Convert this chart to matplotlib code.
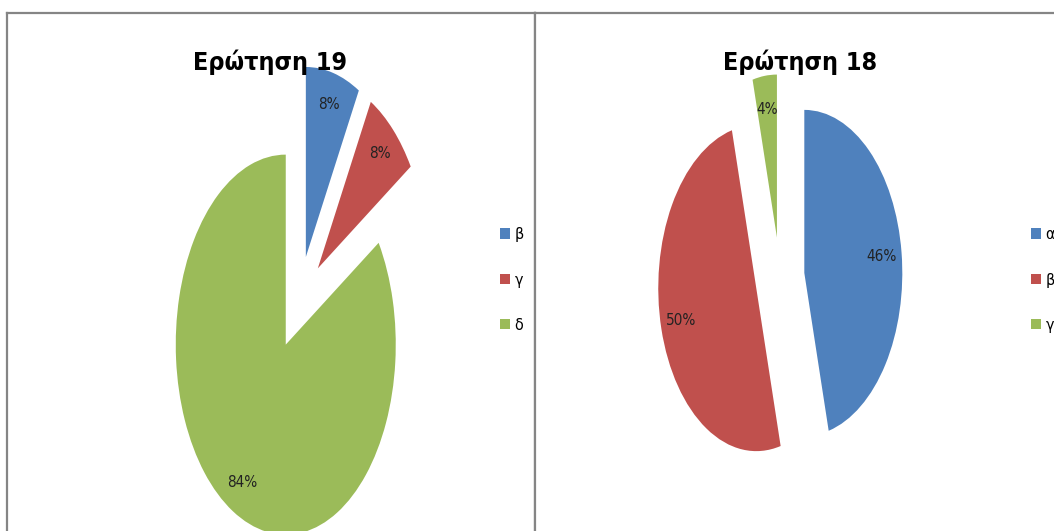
import matplotlib
matplotlib.use('Agg')
import matplotlib.pyplot as plt
from matplotlib import font_manager
from matplotlib.ft2font import FT2Font

# fonts: the original is a narrow Calibri-like face; look for a condensed
# font that also has the greek letters, otherwise use Liberation Sans
fam, stretch = 'Liberation Sans', 'normal'
best = 99
for f in font_manager.fontManager.ttflist:
    if 'Mono' in f.name or 'Serif' in f.name:
        continue
    narrow = ('Narrow' in f.name or 'Condensed' in f.name
              or f.stretch in ('condensed', 'semi-condensed'))
    if not narrow or 'Extra' in f.name or 'Ultra' in f.name:
        continue
    try:
        cmap = FT2Font(f.fname).get_charmap()
    except Exception:
        continue
    if ord('ώ') not in cmap or ord('η') not in cmap:
        continue
    rank = 0 if f.name in ('DejaVu Sans', 'Noto Sans', 'Open Sans', 'Roboto') else 1
    if rank < best:
        best = rank
        fam = f.name
        stretch = f.stretch if f.stretch in ('condensed', 'semi-condensed') else 'normal'
plt.rcParams['font.family'] = [fam, 'DejaVu Sans']
plt.rcParams['font.stretch'] = stretch

# data
titles = ['Ερώτηση 19', 'Ερώτηση 18']
labels19 = ['β', 'γ', 'δ']
values19 = [8, 8, 84]
labels18 = ['α', 'β', 'γ']
values18 = [46, 50, 4]
colors19 = ['#4F81BD', '#C0504D', '#9BBB59']
colors18 = ['#4F81BD', '#C0504D', '#9BBB59']

W, H = 1054, 531
fig = plt.figure(figsize=(W/100, H/100), dpi=100)

def px_axes(x0, x1, ytop, ybot):
    return fig.add_axes([x0/W, 1-ybot/H, (x1-x0)/W, (ybot-ytop)/H])

def draw_pie(ax, vals, cols, box, cx, cy, rx, ry, pctd):
    x0, x1, ytop, ybot = box
    wedges, texts, autotexts = ax.pie(vals, colors=cols, startangle=90, counterclock=False,
                                      explode=[0.25]*len(vals), autopct='%1.0f%%',
                                      pctdistance=pctd, wedgeprops=dict(linewidth=0),
                                      textprops=dict(fontsize=11, color='#222222'))
    ax.set_aspect('auto')
    ax.set_xlim((x0-cx)/rx, (x1-cx)/rx)
    ax.set_ylim((cy-ybot)/ry, (cy-ytop)/ry)
    ax.set_frame_on(True)
    ax.set_xticks([])
    ax.set_yticks([])
    for s in ax.spines.values():
        s.set_visible(True)
        s.set_color('#858585')
        s.set_linewidth(1.6)
    return wedges

# left panel - question 19
box1 = (7, 535, 13, 560)
ax1 = px_axes(*box1)
w1 = draw_pie(ax1, values19, colors19, box1, 299, 303, 110, 190, 0.83)

# right panel - question 18
box2 = (535, 1080, 13, 560)
ax2 = px_axes(*box2)
w2 = draw_pie(ax2, values18, colors18, box2, 780, 278, 98, 163, 0.79)

fig.text(270/W, 1-62/H, titles[0], ha='center', va='center', fontsize=18, fontweight='bold')
fig.text(800/W, 1-62/H, titles[1], ha='center', va='center', fontsize=18, fontweight='bold')

leg_kw = dict(frameon=False, fontsize=11.5, handlelength=0.6, handleheight=0.6,
              handletextpad=0.3, labelspacing=1.9, loc='center left', borderpad=0,
              borderaxespad=0)
fig.legend(w1, labels19, bbox_to_anchor=(500/W, 1-280/H), **leg_kw)
fig.legend(w2, labels18, bbox_to_anchor=(1031/W, 1-280/H), **leg_kw)

plt.savefig('out.png', dpi=100)
plt.close()
